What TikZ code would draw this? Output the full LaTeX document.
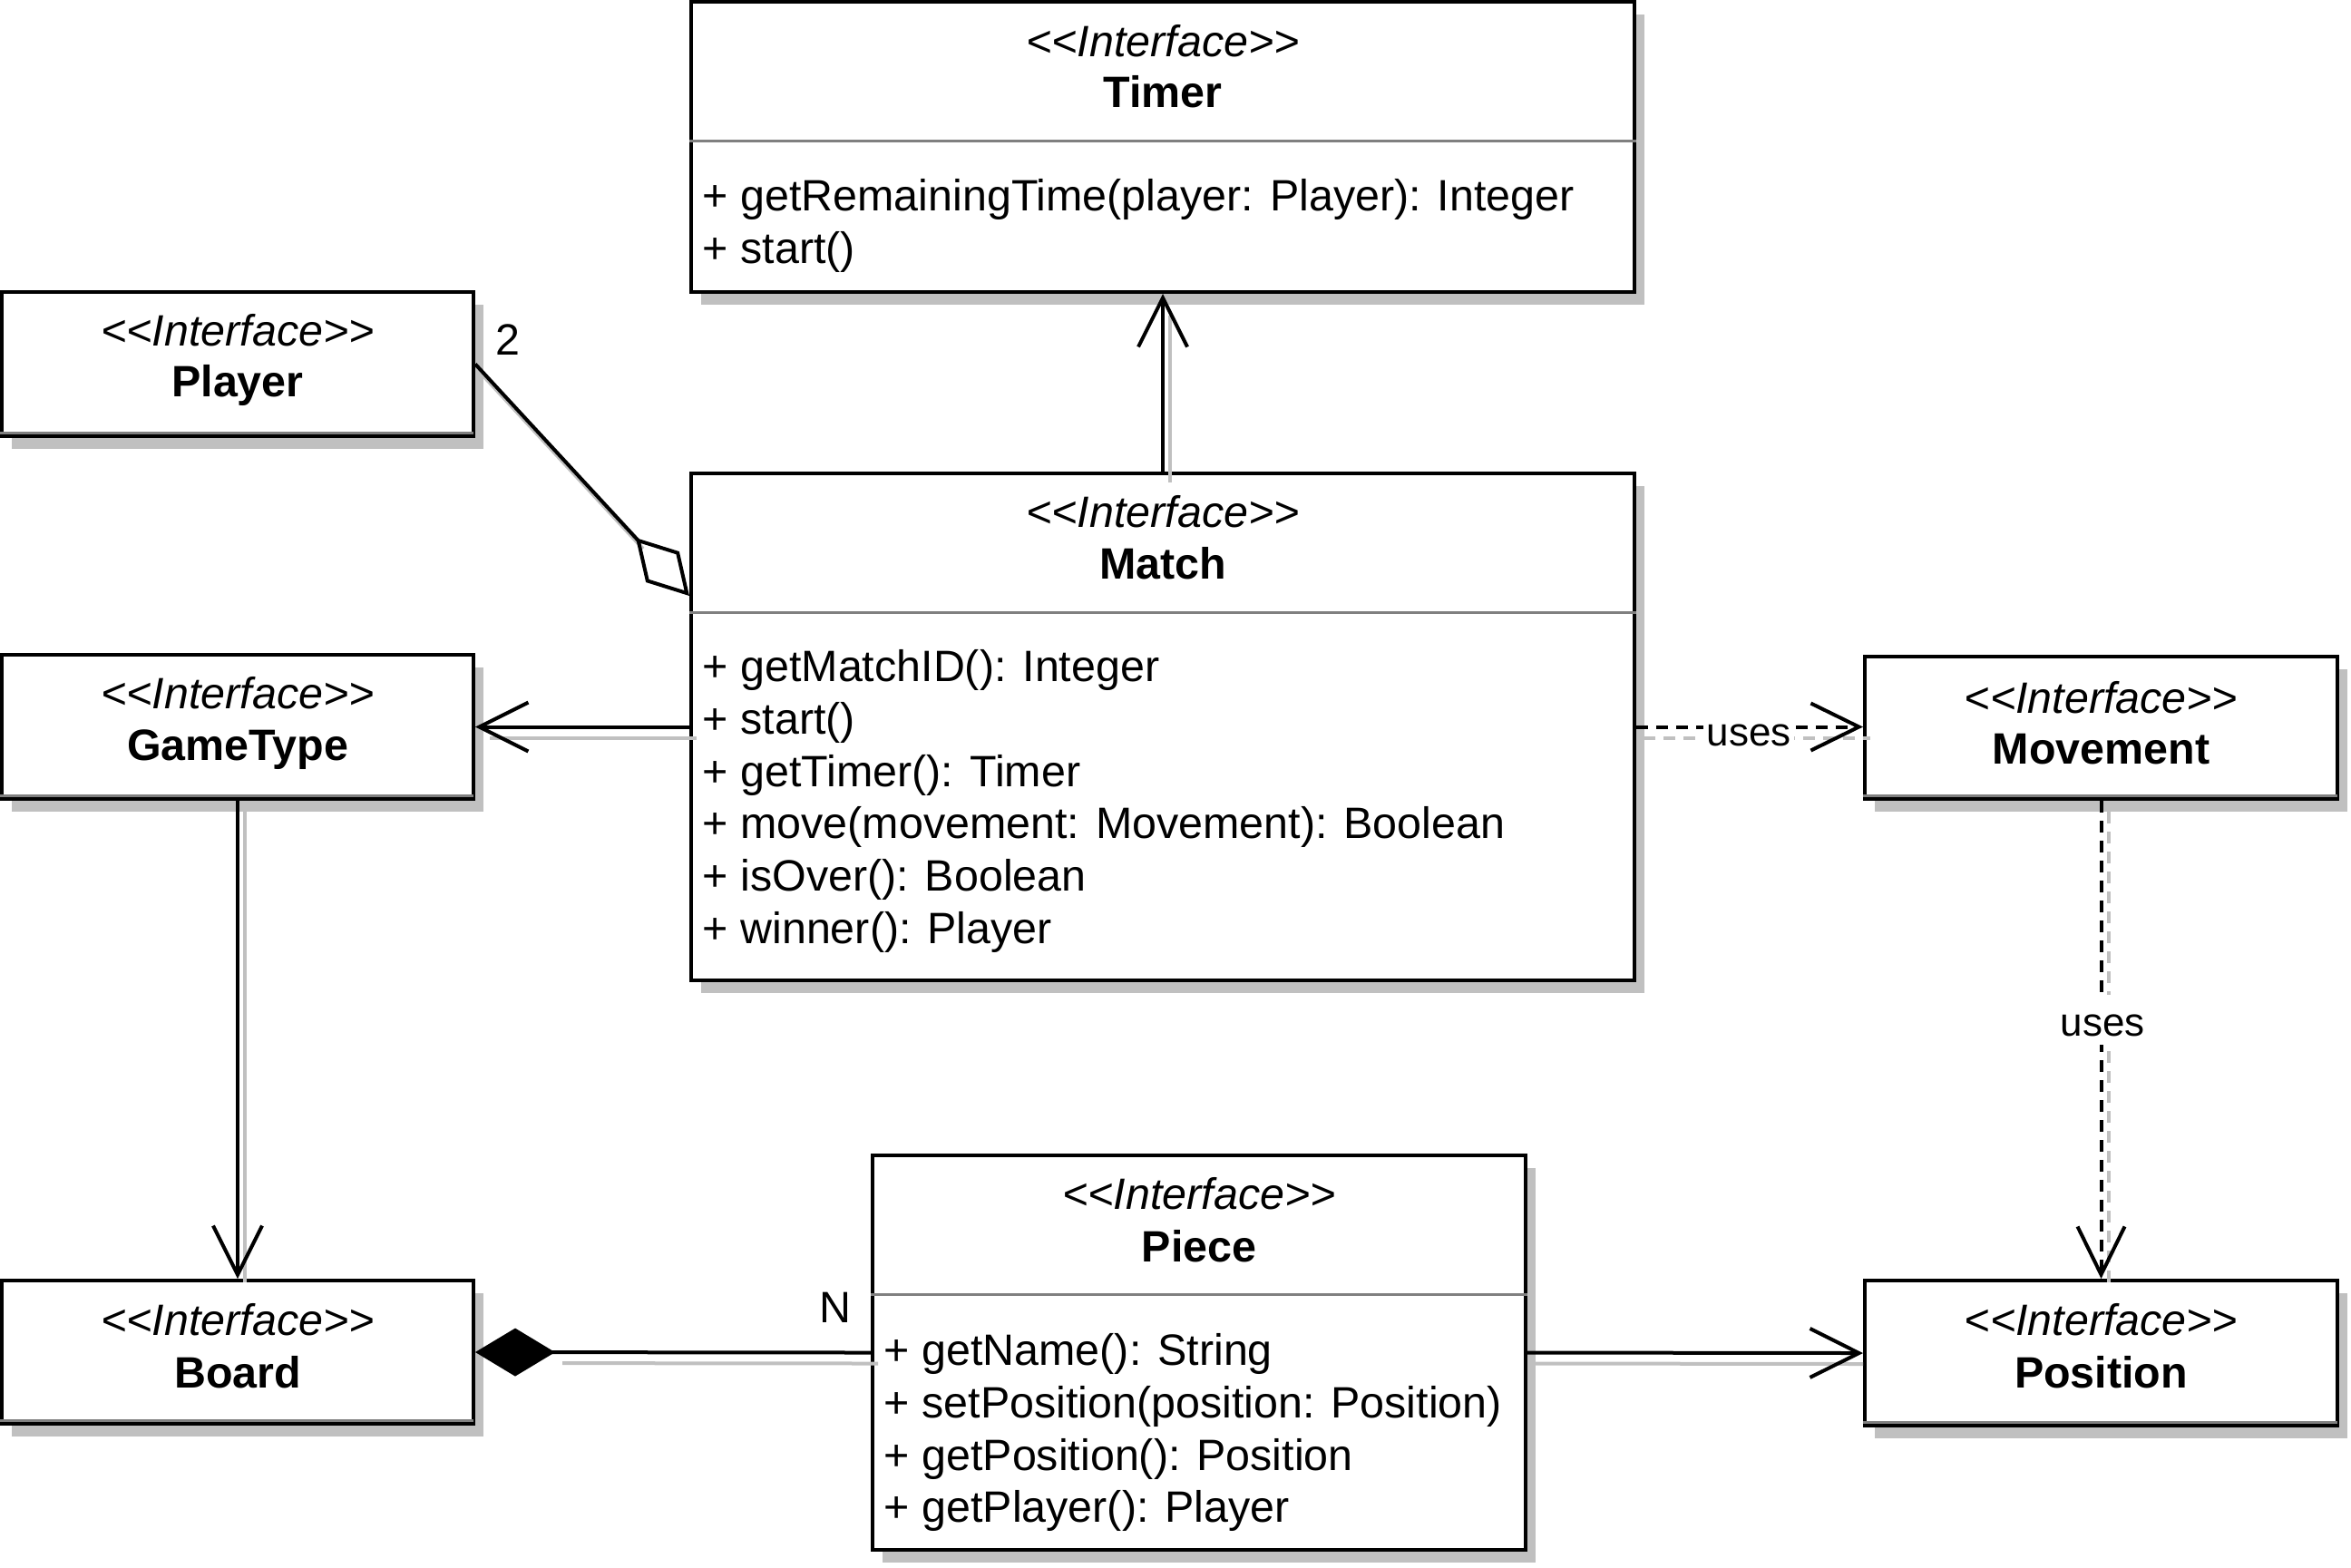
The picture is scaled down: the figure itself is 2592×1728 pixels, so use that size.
\documentclass[tikz,border=0pt]{standalone}
\usepackage{fontspec}
\newfontfamily\lsans{Liberation Sans}
\usetikzlibrary{arrows.meta,calc,shadows}
\definecolor{shgray}{HTML}{C0C0C0}
\definecolor{sepgray}{HTML}{808080}
\begin{document}
\begin{tikzpicture}[x=0.25pt,y=-0.25pt,
  every node/.style={font=\lsans\fontsize{12.1pt}{14.5pt}\selectfont, inner sep=0pt},
  box/.style={draw=black, line width=1pt, fill=white,
    drop shadow={shadow xshift=2.7pt, shadow yshift=-3.4pt, fill=shgray, opacity=1}},
  sepline/.style={draw=sepgray, line width=0.75pt},
  stereo/.style={anchor=base, font=\lsans\itshape\fontsize{12.1pt}{14.5pt}\selectfont},
  cname/.style={anchor=base, font=\lsans\bfseries\fontsize{12.1pt}{14.5pt}\selectfont},
  member/.style={anchor=base west},
  mult/.style={anchor=base},
  uselbl/.style={anchor=base, fill=white, inner xsep=1pt, inner ysep=0pt,
    text height=11.25pt, text depth=2.5pt, font=\lsans\fontsize{11pt}{13pt}\selectfont},
  openarr/.style={line width=1pt, -{Straight Barb[length=13.5pt, width=13.5pt, line width=1pt]}},
  aggr/.style={line width=1pt, -{Diamond[open, length=21.75pt, width=12.5pt, line width=1pt]}},
  comp/.style={line width=1pt, {Diamond[length=22pt, width=13.25pt]}-},
  dep/.style={line width=1pt, dash pattern=on 3.25pt off 2.25pt,
    -{Straight Barb[length=13.25pt, width=13pt, line width=1pt]}},
  shl/.style={draw=shgray, line width=1pt},
  shdep/.style={draw=shgray, line width=1pt, dash pattern=on 3.25pt off 2.25pt}
]
\useasboundingbox (0,0) rectangle (2592,1728);

% ---------- boxes ----------
\node[box, minimum width=260pt, minimum height=80pt] (Timer) at (1282,162) {};
\node[box, minimum width=130pt, minimum height=39.75pt] (Player) at (262,401.5) {};
\node[box, minimum width=260pt, minimum height=139.75pt] (Match) at (1282,801.5) {};
\node[box, minimum width=130pt, minimum height=39.75pt] (GameType) at (262,801.5) {};
\node[box, minimum width=130.25pt, minimum height=39.25pt] (Movement) at (2316.5,802.5) {};
\node[box, minimum width=130pt, minimum height=39.5pt] (Board) at (262,1491) {};
\node[box, minimum width=130.25pt, minimum height=40pt] (Position) at (2316.5,1492) {};
\node[box, minimum width=180pt, minimum height=108.75pt] (Piece) at (1322,1491.5) {};

% ---------- separators ----------
\draw[sepline] ($(Timer.north west)+(0,155)$) -- ($(Timer.north east)+(0,155)$);
\draw[sepline] ($(Match.north west)+(0,155)$) -- ($(Match.north east)+(0,155)$);
\draw[sepline] ($(Piece.north west)+(0,155)$) -- ($(Piece.north east)+(0,155)$);
\foreach \b in {Player,GameType,Movement,Board,Position}{
  \draw[sepline] ($(\b.south west)+(0,-6)$) -- ($(\b.south east)+(-2,-6)$);
}

% ---------- texts ----------
\node[stereo] (Timer-st) at (1282,62) {<<Interface>>};
\node[cname]  (Timer-nm) at (1282,118) {Timer};
\node[member] (Timer-m1) at (774,232) {+ getRemainingTime(player: Player): Integer};
\node[member] (Timer-m2) at (774,290) {+ start()};

\node[stereo] (Player-st) at (262,381) {<<Interface>>};
\node[cname]  (Player-nm) at (262,437) {Player};

\node[stereo] (Match-st) at (1282,581) {<<Interface>>};
\node[cname]  (Match-nm) at (1282,638) {Match};
\node[member] (Match-m1) at (774,751) {+ getMatchID(): Integer};
\node[member] (Match-m2) at (774,809) {+ start()};
\node[member] (Match-m3) at (774,867) {+ getTimer(): Timer};
\node[member] (Match-m4) at (774,924) {+ move(movement: Movement): Boolean};
\node[member] (Match-m5) at (774,982) {+ isOver(): Boolean};
\node[member] (Match-m6) at (774,1040) {+ winner(): Player};

\node[stereo] (GameType-st) at (262,781) {<<Interface>>};
\node[cname]  (GameType-nm) at (262,838) {GameType};

\node[stereo] (Movement-st) at (2316.5,786) {<<Interface>>};
\node[cname]  (Movement-nm) at (2316.5,842) {Movement};

\node[stereo] (Board-st) at (262,1472) {<<Interface>>};
\node[cname]  (Board-nm) at (262,1530) {Board};

\node[stereo] (Position-st) at (2316.5,1472) {<<Interface>>};
\node[cname]  (Position-nm) at (2316.5,1530) {Position};

\node[stereo] (Piece-st) at (1322,1333) {<<Interface>>};
\node[cname]  (Piece-nm) at (1322,1391) {Piece};
\node[member] (Piece-m1) at (974,1505) {+ getName(): String};
\node[member] (Piece-m2) at (974,1563) {+ setPosition(position: Position)};
\node[member] (Piece-m3) at (974,1621) {+ getPosition(): Position};
\node[member] (Piece-m4) at (974,1678) {+ getPlayer(): Player};

% ---------- connector end points ----------
\coordinate (mP) at ($(Match.north west)+(0,137)$);
\coordinate (mvW) at (Match.east -| Movement.west);

% ---------- connector shadows ----------
\draw[shl, shorten >=3pt] ($(Match.north)+(8,12)$) -- ($(Timer.south)+(8,12)$);
\draw[shl, shorten >=21.75pt] ($(Player.east)+(8,12)$) -- ($(mP)+(8,12)$);
\draw[shl, shorten >=2pt] ($(Match.west)+(8,12)$) -- ($(GameType.east)+(8,12)$);
\draw[shl, shorten >=2pt] ($(GameType.south)+(8,12)$) -- ($(Board.north)+(8,12)$);
\draw[shl, shorten <=22pt] ($(Board.east)+(8,12)$) -- ($(Piece.west)+(8,12)$);
\draw[shl, shorten >=2pt] ($(Piece.east)+(8,12)$) -- ($(Position.west)+(8,12)$);
\draw[shdep] ($(Match.east)+(8,12)$) -- ($(mvW)+(8,12)$);
\draw[shdep] ($(Movement.south)+(8,12)$) -- ($(Position.north)+(8,12)$);

% ---------- connectors ----------
\draw[openarr] (Match.north) -- (Timer.south);
\draw[aggr] (Player.east) -- (mP);
\draw[openarr] (Match.west) -- (GameType.east);
\draw[openarr] (GameType.south) -- (Board.north);
\draw[comp] (Board.east) -- (Piece.west);
\draw[openarr] (Piece.east) -- (Position.west);
\draw[dep] (Match.east) -- (mvW);
\draw[dep] (Movement.south) -- (Position.north);

% ---------- labels ----------
\node[mult] (lbl2) at (560,391) {2};
\node[mult] (lblN) at (921,1458) {N};
\node[uselbl] (uses1) at (1928,822) {uses};
\node[uselbl] (uses2) at (2318,1142) {uses};
\end{tikzpicture}
\end{document}
